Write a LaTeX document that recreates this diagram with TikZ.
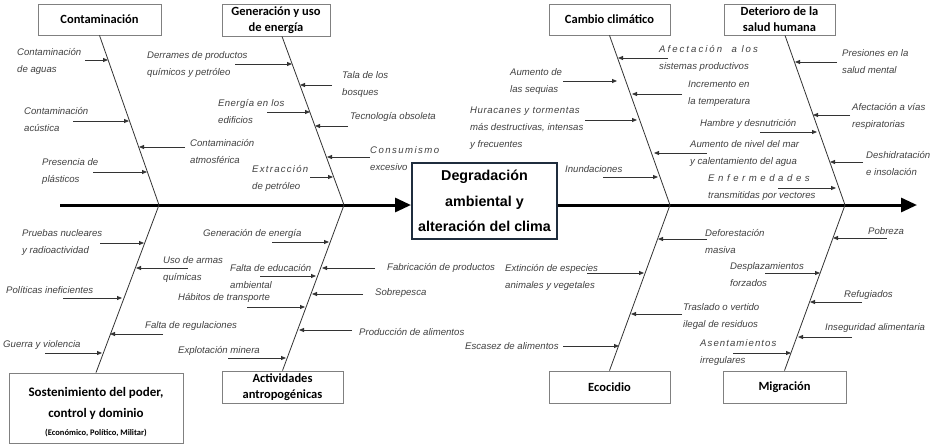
\documentclass[tikz,border=0pt]{standalone}
\usepackage{fontspec}
\setmainfont{Liberation Sans}
\newfontfamily\calibri{Carlito}
\usetikzlibrary{arrows.meta}
\usetikzlibrary{positioning,calc}

\definecolor{bordegris}{HTML}{808080}
\definecolor{textogris}{HTML}{404040}
\definecolor{lineagris}{HTML}{333333}
\definecolor{marino}{HTML}{1F2D3D}

% letter spacing for some labels
\newcommand{\esp}[2]{{\addfontfeature{LetterSpace=#1}#2}}
% cause: name, label position, text, arrow y, tail x, head x
\newcommand{\causa}[6]{%
	\node [causa] (#1) at (#2) {#3};
	\coordinate (#1a) at (#5,#4);
	\coordinate (#1b) at (#6,#4);
	\draw [flechita] (#1a) -- (#1b);}

\tikzset{categoria/.style={rectangle,draw=bordegris,line width=0.8pt,inner sep=0pt,
			font=\calibri\bfseries\fontsize{12.5}{16}\selectfont,align=center},
		efecto/.style={rectangle,draw=marino,line width=2pt,inner sep=0pt,
			minimum width=145pt,minimum height=76pt,
			font=\bfseries\fontsize{14.3}{25.5}\selectfont,align=center},
		causa/.style={anchor=west,inner sep=0pt,align=left,text=textogris,
			font=\itshape\fontsize{9.6}{17}\selectfont},
		flechita/.style={-{Triangle[length=5pt,width=4pt]},line width=0.8pt,color=lineagris},
		espina/.style={line width=0.8pt,color=lineagris},
		espinazo/.style={-{Triangle[length=16pt,width=14pt]},line width=3pt,color=black}}

\begin{document}
\begin{tikzpicture}[x=1pt,y=-1pt]
	\useasboundingbox (0,0) rectangle (935,445);
	% categories
	\node [categoria,minimum width=123pt,minimum height=31pt] (cont) at (99.5,19.5) {Contaminación};
	\node [categoria,minimum width=108pt,minimum height=32pt] (gen) at (276,20) {Generación y uso\\de energía};
	\node [categoria,minimum width=121pt,minimum height=31pt] (camb) at (609.5,19.5) {Cambio climático};
	\node [categoria,minimum width=111pt,minimum height=31pt] (det) at (779.5,19.5) {Deterioro de la\\salud humana};
	\node [categoria,minimum width=174pt,minimum height=70pt,font=\calibri\bfseries\fontsize{13}{21}\selectfont] (sost) at (96,408)
		{\rule{0pt}{17pt}Sostenimiento del poder,\\control y dominio\\[-3pt]{\fontsize{8.5}{10}\selectfont(Económico, Político, Militar)}};
	\node [categoria,minimum width=121pt,minimum height=32pt] (activ) at (282.5,387) {Actividades\\antropogénicas};
	\node [categoria,minimum width=121pt,minimum height=32pt] (eco) at (609.5,387) {Ecocidio};
	\node [categoria,minimum width=123pt,minimum height=32pt] (migr) at (784.5,387) {Migración};
	\node [efecto] (efec) at (484.5,201) {Degradación\\ambiental y\\alteración del clima};
	% spine
	\coordinate (inicio) at (60,205);
	\coordinate (fin) at (917,205);
	\coordinate (j1) at (159,205);
	\coordinate (j2) at (344,205);
	\coordinate (j3) at (670,205);
	\coordinate (j4) at (845,205);
	\draw [espinazo] (inicio) -- (inicio -| efec.west);
	\draw [espinazo] (inicio -| efec.east) -- (fin);
	% bones
	\draw [espina] (cont.south) -- (j1) -- (sost.north);
	\draw [espina] ([xshift=6pt]gen.south) -- (j2) -- (activ.north);
	\draw [espina] (camb.south) -- (j3) -- (eco.north);
	\draw [espina] ([xshift=5.5pt]det.south) -- (j4) -- (migr.north);
	% contaminacion
	\causa{ca1}{17,61}{Contaminación\\de aguas}{60}{85}{108}
	\causa{ca2}{24,119.5}{Contaminación\\acústica}{121}{73}{129}
	\causa{ca3}{42,172}{Presencia de\\plásticos}{172}{93}{147}
	\causa{ca4}{190,151.5}{Contaminación\\atmosférica}{147}{185}{139}
	% generacion y uso de energia
	\causa{ge1}{147,64.5}{Derrames de productos\\químicos y petróleo}{64}{235}{292}
	\causa{ge2}{218,111.5}{\esp{4}{Energía en los}\\edificios}{112}{267}{310}
	\causa{ge3}{252,178}{\esp{13}{Extracción}\\de petróleo}{177}{310}{333}
	\causa{ge4}{342,84.5}{Tala de los\\bosques}{85}{332}{300}
	\causa{ge5}{350,117}{Tecnología obsoleta}{126}{348}{315}
	\causa{ge6}{370,158.5}{\esp{15}{Consumismo}\\excesivo}{157}{370}{327}
	% cambio climatico
	\causa{cc1}{510,81.5}{Aumento de\\las sequias}{81}{563}{617}
	\causa{cc2}{470,128}{\esp{6}{Huracanes y tormentas}\\más destructivas, intensas\\y frecuentes}{120}{585}{637}
	\causa{cc3}{565,169}{Inundaciones}{177}{603}{658}
	\causa{cc4}{659,58.5}{\esp{21}{Afectación~ a los}\\sistemas productivos}{58}{668}{618}
	\causa{cc5}{688,93.5}{Incremento en\\la temperatura}{94}{682}{632}
	\causa{cc6}{690,153.5}{Aumento de nivel del mar\\y calentamiento del agua}{153}{707}{654}
	% salud humana
	\causa{dh1}{700,124}{Hambre y\ desnutrición}{132}{760}{817}
	\causa{dh2}{708,187.5}{\esp{37}{Enfermedades}\\transmitidas por vectores}{188}{778}{836}
	\causa{dh3}{842,61.5}{Presiones en la\\salud mental}{62}{837}{795}
	\causa{dh4}{852,116}{Afectación a vías\\respiratorias}{115}{850}{813}
	\causa{dh5}{866,163.5}{Deshidratación\\e insolación}{162}{863}{830}
	% sostenimiento del poder
	\causa{so1}{22,242.5}{Pruebas nucleares\\y radioactividad}{243}{100}{144}
	\causa{so2}{163,269.5}{Uso de armas\\químicas}{268}{188}{136}
	\causa{so3}{6,290}{Políticas ineficientes}{298}{63}{122}
	\causa{so4}{145,326}{Falta de regulaciones}{334}{163}{110}
	\causa{so5}{3,345}{Guerra y violencia}{353}{45}{102}
	% actividades antropogenicas
	\causa{ac1}{203,234}{Generación de energía}{242}{272}{329}
	\causa{ac2}{230,276.5}{Falta de educación\\ambiental}{276}{260}{316}
	\causa{ac3}{387,268}{Fabricación de productos}{268}{375}{322}
	\causa{ac4}{375,293}{Sobrepesca}{294}{363}{312}
	\causa{ac5}{178,298}{Hábitos de transporte}{307}{247}{305}
	\causa{ac6}{359,332}{Producción de alimentos}{330}{352}{299}
	\causa{ac7}{178,351}{Explotación minera}{358}{228}{286}
	% ecocidio
	\causa{ec1}{705,241.5}{Deforestación\\masiva}{239}{707}{658}
	\causa{ec2}{505,277.5}{Extinción de especies\\animales y vegetales}{273}{587}{644}
	\causa{ec3}{683,316.5}{Traslado o vertido\\ilegal de residuos}{314}{682}{631}
	\causa{ec4}{465,346}{Escasez de alimentos}{346}{563}{619}
	% migracion
	\causa{mi1}{700,353}{\esp{11}{Asentamientos}\\irregulares}{353}{733}{791}
	\causa{mi2}{868,231}{Pobreza}{238}{887}{833}
	\causa{mi3}{730,274.5}{Desplazamientos\\forzados}{273}{765}{820}
	\causa{mi4}{844,295}{Refugiados}{302}{862}{810}
	\causa{mi5}{825,328}{Inseguridad alimentaria}{337}{852}{798}
\end{tikzpicture}
\end{document}
